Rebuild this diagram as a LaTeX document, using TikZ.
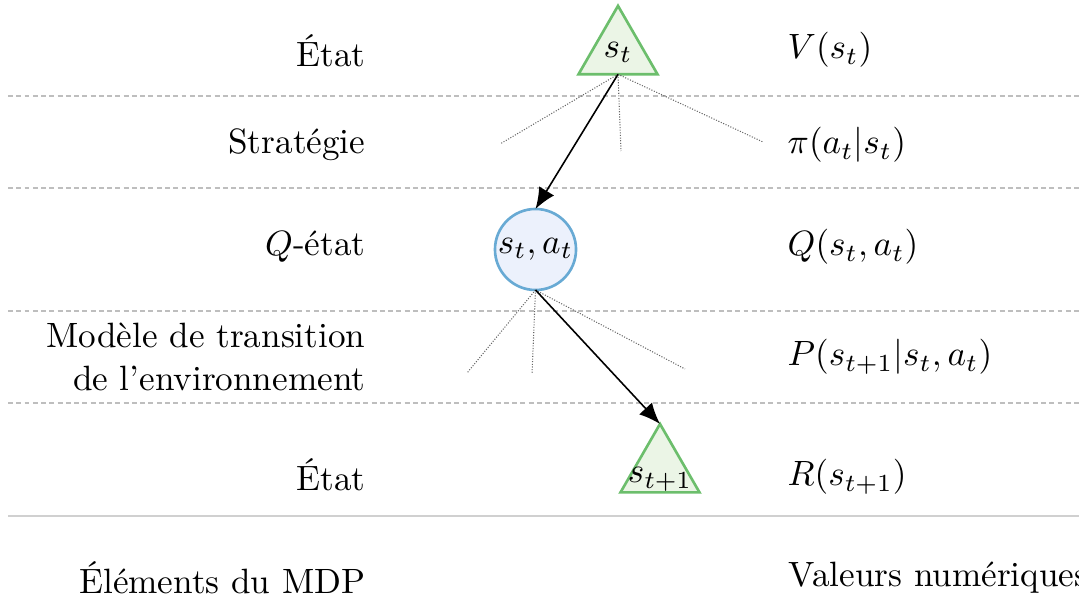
\documentclass[tikz,border=0pt]{standalone}
\usepackage{fontspec}
\usetikzlibrary{shapes.geometric,arrows.meta}
\definecolor{stgreen}{RGB}{108,190,108}
\definecolor{stgreenfill}{RGB}{235,245,230}
\definecolor{qblue}{RGB}{104,170,212}
\definecolor{qbluefill}{RGB}{236,241,252}
\definecolor{rowgray}{RGB}{190,190,190}
\definecolor{basegray}{RGB}{208,208,208}
\begin{document}
\begin{tikzpicture}[x=0.01cm,y=-0.01cm,
  statenode/.style={regular polygon, regular polygon sides=3, minimum size=0.912cm,
    inner sep=0pt, outer sep=0pt, draw=stgreen, fill=stgreenfill, line width=0.75pt},
  qnode/.style={circle, minimum size=0.81cm, inner sep=0pt, outer sep=0pt,
    draw=qblue, fill=qbluefill, line width=0.75pt},
  rowline/.style={rowgray, line width=0.3pt, dash pattern=on 1.4pt off 0.95pt},
  branch/.style={black!60, line width=0.3pt, dash pattern=on 0.3pt off 0.45pt},
  chosen/.style={black, line width=0.45pt, -{Latex[length=6pt,width=5pt]}},
  lefttext/.style={anchor=east, inner sep=0pt, align=right},
  righttext/.style={anchor=west, inner sep=0pt},
]
\useasboundingbox (0,0) rectangle (1079,604);

% row separators
\draw[rowline] (8,96) -- (1079,96);
\draw[rowline] (8,188) -- (1079,188);
\draw[rowline] (8,311) -- (1079,311);
\draw[rowline] (8,403) -- (1079,403);
\draw[basegray, line width=0.6pt] (8,516) -- (1079,516);

% left column: MDP elements
\node[lefttext] (lstate)  at (366,51)  {État};
\node[lefttext] (lpolicy) at (366,145) {Stratégie};
\node[lefttext] (lqstate) at (366,247) {$Q$-état};
\node[lefttext] (lmodel)  at (366,357) {Modèle de transition\\de l'environnement};
\node[lefttext] (lnext)   at (366,475) {État};
\node[lefttext] (lhead)   at (366,578) {Éléments du MDP};

% right column: numerical values
\node[righttext] (rv) at (787,50)  {$V(s_t)$};
\node[righttext] (rp) at (787,145) {$\pi(a_t|s_t)$};
\node[righttext] (rq) at (787,247) {$Q(s_t,a_t)$};
\node[righttext] (rt) at (787,357) {$P(s_{t+1}|s_t,a_t)$};
\node[righttext] (rr) at (787,477) {$R(s_{t+1})$};
\node[righttext] (rhead) at (788,578) {Valeurs numériques};

% tree: labels sit on a fixed baseline below the triangle centroid
\node[statenode] (st) at (618,51.5) {\makebox[0pt]{\raisebox{-1.6pt}[0pt][0pt]{$s_t$}}};
\node[qnode] (sa) at (535.5,249.5) {$s_t,a_t$};
\node[statenode] (sn) at (660,469.6) {\makebox[0pt]{\raisebox{-3.8pt}[0pt][0pt]{$s_{t+1}$}}};

% alternative actions
\coordinate (a1) at (500,144);
\coordinate (a2) at (621,151);
\coordinate (a3) at (763,142);
\draw[branch] (st.south) -- (a1);
\draw[branch] (st.south) -- (a2);
\draw[branch] (st.south) -- (a3);

% alternative successor states
\coordinate (b1) at (467,373);
\coordinate (b2) at (532,374);
\coordinate (b3) at (685,369);
\draw[branch] (sa.south) -- (b1);
\draw[branch] (sa.south) -- (b2);
\draw[branch] (sa.south) -- (b3);

% sampled transition
\draw[chosen] (st.south) -- (sa.north);
\draw[chosen] (sa.south) -- (sn.north);
\end{tikzpicture}
\end{document}
